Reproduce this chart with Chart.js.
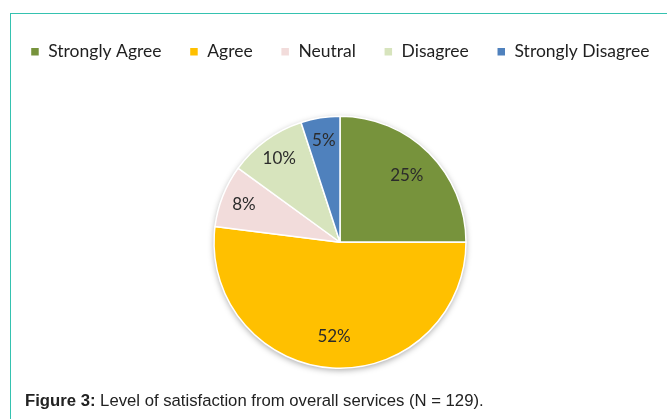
<!DOCTYPE html>
<html>
<head>
<meta charset="utf-8">
<script src="https://cdn.jsdelivr.net/npm/chart.js@4.4.1/dist/chart.umd.min.js"></script>
<style>
    html, body { margin: 0; padding: 0; background: #fff; }
    #page { position: relative; width: 667px; height: 419px; overflow: hidden; }
    #frame {
        position: absolute; left: 10px; top: 13px; width: 700px; height: 500px;
        border-left: 1.5px solid #35c2b0; border-top: 1.5px solid #35c2b0;
    }
    /* canvas is wider than the page so the legend stays on one row; its centre is x=340 */
    #chart-wrap { position: absolute; left: -20px; top: 15px; width: 720px; height: 420px; }
    #caption {
        position: absolute; left: 25px; top: 391px;
        font-family: "Liberation Sans", Arial, sans-serif; font-size: 16.7px; color: #222;
        white-space: nowrap;
    }
    #caption b { font-weight: bold; }
</style>
</head>
<body>
<div id="page">
    <div id="frame"></div>
    <div id="chart-wrap"><canvas id="pieChart"></canvas></div>
    <div id="caption"><b>Figure 3:</b> Level of satisfaction from overall services (N = 129).</div>
</div>
<script>
var categories = ['Strongly Agree', 'Agree', 'Neutral', 'Disagree', 'Strongly Disagree'];
var percentValues = [25, 52, 8, 10, 5];
var sliceColors = ['#77933c', '#ffc000', '#f2dcdb', '#d7e4bd', '#4f81bd'];

// soft shadow under the whole pie, like the office chart
var pieShadow = {
    id: 'pieShadow',
    beforeDatasetsDraw: function(chart) {
        var arc = chart.getDatasetMeta(0).data[0];
        if (!arc) return;
        var ctx = chart.ctx;
        ctx.save();
        ctx.shadowColor = 'rgba(0,0,0,0.35)';
        ctx.shadowBlur = 6;
        ctx.shadowOffsetY = 2;
        ctx.fillStyle = '#fff';
        ctx.beginPath();
        ctx.arc(arc.x, arc.y, arc.outerRadius, 0, Math.PI * 2);
        ctx.fill();
        ctx.restore();
    }
};

// percent labels inside the slices
var sliceLabels = {
    id: 'sliceLabels',
    afterDatasetsDraw: function(chart) {
        var ctx = chart.ctx;
        var meta = chart.getDatasetMeta(0);
        ctx.save();
        ctx.font = '17px Lato, "Open Sans", sans-serif';
        ctx.fillStyle = '#2b2b2b';
        ctx.textAlign = 'center';
        ctx.textBaseline = 'middle';
        meta.data.forEach(function(arc, i) {
            var mid = (arc.startAngle + arc.endAngle) / 2;
            var ratio = percentValues[i] > 20 ? 0.75 : 0.82;
            var r = arc.outerRadius * ratio;
            ctx.fillText(percentValues[i] + '%', arc.x + Math.cos(mid) * r, arc.y + Math.sin(mid) * r);
        });
        ctx.restore();
    }
};

var ctx = document.getElementById('pieChart').getContext('2d');
var pieChart = new Chart(ctx, {
    type: 'pie',
    data: {
        labels: categories,
        datasets: [{
            data: percentValues,
            backgroundColor: sliceColors,
            borderColor: '#fff',
            borderWidth: 1.5,
            radius: 126
        }]
    },
    options: {
        responsive: true,
        maintainAspectRatio: false,
        animation: false,
        layout: { padding: { top: 0, bottom: 21 } },
        plugins: {
            tooltip: { enabled: false },
            legend: {
                position: 'top',
                labels: {
                    boxWidth: 9,
                    boxHeight: 9,
                    padding: 28,
                    color: '#1f1f1f',
                    font: { family: 'Lato, "Open Sans", sans-serif', size: 17.5 }
                }
            }
        }
    },
    plugins: [pieShadow, sliceLabels]
});
</script>
</body>
</html>
